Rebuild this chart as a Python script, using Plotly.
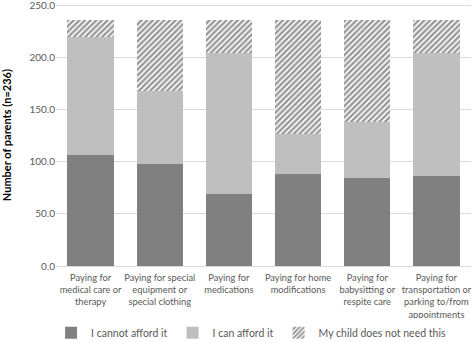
import plotly.graph_objects as go

categories = [
    "Paying for<br>medical care or<br>therapy",
    "Paying for special<br>equipment or<br>special clothing",
    "Paying for<br>medications",
    "Paying for home<br>modifications",
    "Paying for<br>babysitting or<br>respite care",
    "Paying for<br>transportation or<br>parking to/from<br>appointments",
]
cannot_afford = [106, 98, 69, 88, 84, 86]
can_afford = [113, 70, 135, 38, 54, 118]
not_needed = [17, 68, 32, 110, 98, 32]
y_ticks = [0, 50, 100, 150, 200, 250]
y_tick_text = ["0.0", "50.0", "100.0", "150.0", "200.0", "250.0"]

FONT = "Lato, Liberation Sans, Arial, sans-serif"

fig = go.Figure()
fig.add_trace(go.Bar(x=categories, y=cannot_afford, name="I cannot afford it",
                     marker=dict(color="#808080", line=dict(width=0))))
fig.add_trace(go.Bar(x=categories, y=can_afford, name="I can afford it",
                     marker=dict(color="#bfbfbf", line=dict(width=0))))
fig.add_trace(go.Bar(x=categories, y=not_needed, name="My child does not need this",
                     marker=dict(color="white", line=dict(width=0),
                                 pattern=dict(shape="/", fgcolor="#303030", bgcolor="white",
                                              size=4, solidity=0.6))))

fig.update_layout(
    barmode="stack",
    bargap=0.33,
    width=472, height=342,
    margin=dict(l=56, r=1, t=4, b=76, autoexpand=False),
    paper_bgcolor="white", plot_bgcolor="white",
    font=dict(family=FONT, size=10, color="#595959"),
    legend=dict(orientation="h", x=0.47, xanchor="center", y=-0.255, yanchor="middle",
                font=dict(size=10.5, color="#595959"), traceorder="normal",
                itemwidth=30, tracegroupgap=0),
    yaxis=dict(range=[0, 251], tickmode="array", tickvals=y_ticks, ticktext=y_tick_text,
               ticklabeloverflow="allow",
               showgrid=True, gridcolor="#d9d9d9", gridwidth=1,
               zeroline=True, zerolinecolor="#d9d9d9", zerolinewidth=1,
               showline=False, ticks="", automargin=False,
               tickfont=dict(size=10, color="#595959")),
    xaxis=dict(showline=False, ticks="", tickangle=0, automargin=False,
               ticklabelstandoff=5, ticklabeloverflow="allow",
               tickfont=dict(size=9.3, color="#595959")),
    annotations=[dict(text="<b>Number of parents (n=236)</b>", textangle=-90,
                      xref="paper", yref="paper", x=-0.12, y=0.5,
                      xanchor="center", yanchor="middle", showarrow=False,
                      font=dict(size=11, color="black", family=FONT))],
)

fig.write_html("out.html", config={"displayModeBar": False},
               post_script="document.body.style.margin='0';document.body.style.overflow='hidden';")
